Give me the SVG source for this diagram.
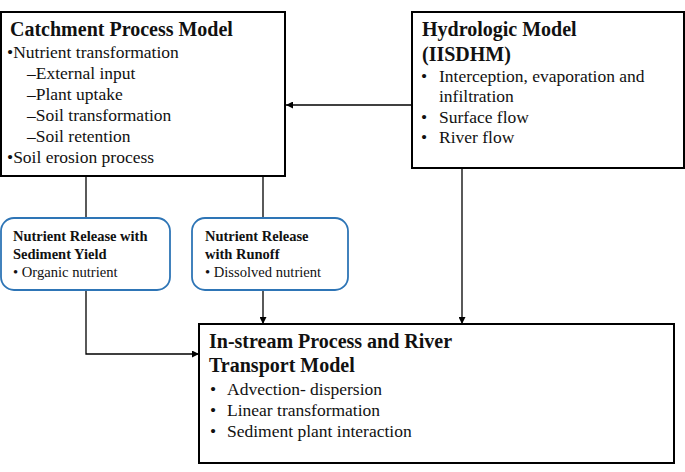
<svg xmlns="http://www.w3.org/2000/svg" width="685" height="472" viewBox="0 0 685 472">
<style>
.box{fill:#fff;stroke:#000;stroke-width:2}
.rbox{fill:#fff;stroke:#2e75b6;stroke-width:1.8}
.t{font-family:"Liberation Serif","Times New Roman",serif;fill:#111}
.h{font-size:20px;font-weight:bold}
.b{font-size:17.5px}
.sh{font-size:14.5px;font-weight:bold}
.s{font-size:14.6px}
.c{fill:none;stroke:#000;stroke-width:1.3}
</style>
<defs>
<marker id="ah" viewBox="0 0 10 10" refX="10" refY="5" markerWidth="7" markerHeight="7" markerUnits="userSpaceOnUse" orient="auto">
<path d="M0,0 L10,5 L0,10 z" fill="#000"/>
</marker>
</defs>
<g id="connectors">
<path class="c" d="M412,105 L286,105" marker-end="url(#ah)"/>
<path class="c" d="M86,176 L86,218"/>
<path class="c" d="M263,176 L263,218"/>
<path class="c" d="M86,290 L86,354 L199,354" marker-end="url(#ah)"/>
<path class="c" d="M263,290 L263,324" marker-end="url(#ah)"/>
<path class="c" d="M462,168 L462,324" marker-end="url(#ah)"/>
</g>
<g id="catchment">
<rect class="box" x="1" y="12" width="284" height="164"/>
<text class="t h" x="10" y="36">Catchment Process Model</text>
<text class="t b" x="7" y="58">•Nutrient transformation</text>
<text class="t b" x="27" y="79">–External input</text>
<text class="t b" x="27" y="100">–Plant uptake</text>
<text class="t b" x="27" y="121">–Soil transformation</text>
<text class="t b" x="27" y="142">–Soil retention</text>
<text class="t b" x="7" y="163">•Soil erosion process</text>
</g>
<g id="hydrologic">
<rect class="box" x="412" y="12" width="272" height="156"/>
<text class="t h" x="422" y="36">Hydrologic Model</text>
<text class="t h" x="422" y="61">(IISDHM)</text>
<text class="t b" x="421" y="82">•</text>
<text class="t b" x="439" y="82">Interception, evaporation and</text>
<text class="t b" x="439" y="102">infiltration</text>
<text class="t b" x="421" y="123">•</text>
<text class="t b" x="439" y="123">Surface flow</text>
<text class="t b" x="421" y="143">•</text>
<text class="t b" x="439" y="143">River flow</text>
</g>
<g id="sediment">
<rect class="rbox" x="1" y="218" width="169" height="72" rx="13"/>
<text class="t sh" x="13" y="241">Nutrient Release with</text>
<text class="t sh" x="13" y="259">Sediment Yield</text>
<text class="t s" x="13" y="277">• Organic nutrient</text>
</g>
<g id="runoff">
<rect class="rbox" x="192" y="218" width="156" height="72" rx="13"/>
<text class="t sh" x="205" y="241">Nutrient Release</text>
<text class="t sh" x="205" y="259">with Runoff</text>
<text class="t s" x="205" y="277">• Dissolved nutrient</text>
</g>
<g id="instream">
<rect class="box" x="199" y="324" width="475" height="139"/>
<text class="t h" x="209" y="348">In-stream Process and River</text>
<text class="t h" x="209" y="372">Transport Model</text>
<text class="t b" x="210" y="395">•</text>
<text class="t b" x="227" y="395">Advection- dispersion</text>
<text class="t b" x="210" y="416">•</text>
<text class="t b" x="227" y="416">Linear transformation</text>
<text class="t b" x="210" y="437">•</text>
<text class="t b" x="227" y="437">Sediment plant interaction</text>
</g>
</svg>
